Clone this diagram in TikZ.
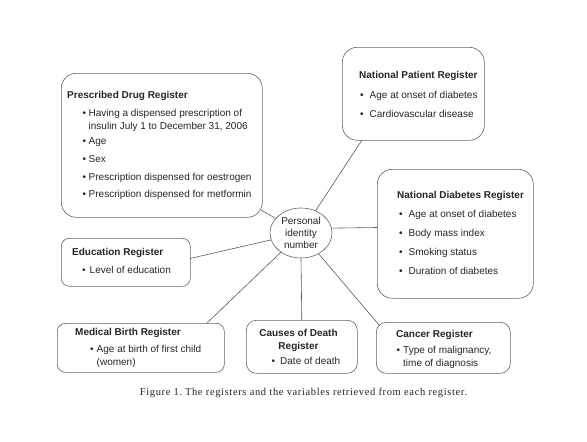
\documentclass[tikz,border=0pt]{standalone}
\usepackage{fontspec}
\setmainfont{Liberation Sans}
\newfontfamily\capfont[LetterSpace=6]{Liberation Serif}
\usetikzlibrary{shapes.geometric}
\begin{document}
\begin{tikzpicture}[x=1pt,y=-1pt,
  regbox/.style={draw=black!62, line width=0.6pt, anchor=north west, inner sep=0pt},
  regtext/.style={anchor=base west, inner sep=0pt, text=black!85, font=\fontsize{10}{13}\selectfont},
  link/.style={draw=black!65, line width=0.6pt}]
\useasboundingbox (0,0) rectangle (587,442);
\fill[white] (0,0) rectangle (587,442);

% boxes
\node[regbox, rounded corners=15pt, minimum width=201pt, minimum height=144pt] (pd) at (61,73) {};
\node[regbox, rounded corners=15pt, minimum width=142pt, minimum height=93pt] (np) at (342,47) {};
\node[regbox, rounded corners=15pt, minimum width=156pt, minimum height=129pt] (db) at (377,169) {};
\node[regbox, rounded corners=8pt, minimum width=129pt, minimum height=48pt] (ed) at (61,238) {};
\node[regbox, rounded corners=8pt, minimum width=167pt, minimum height=49pt] (mb) at (57,323) {};
\node[regbox, rounded corners=10pt, minimum width=111pt, minimum height=53pt] (cd) at (246,320) {};
\node[regbox, rounded corners=10pt, minimum width=134pt, minimum height=51pt] (ca) at (376,322) {};

% texts
\node[regtext] (pdt) at (67,98.5) {\begin{tabular}[t]{@{\hspace{15.5pt}}l@{\hspace{2.5pt}}l@{}}
\multicolumn{2}{@{}l@{}}{\textbf{Prescribed Drug Register}}\\[5pt]
\textbullet & Having a dispensed prescription of\\
 & insulin July 1 to December 31, 2006\\[1.5pt]
\textbullet & Age\\[5pt]
\textbullet & Sex\\[5pt]
\textbullet & Prescription dispensed for oestrogen\\[4pt]
\textbullet & Prescription dispensed for metformin
\end{tabular}};

\node[regtext] (npt) at (359,78.5) {\begin{tabular}[t]{@{\hspace{1pt}}l@{\hspace{6pt}}l@{}}
\multicolumn{2}{@{}l@{}}{\textbf{National Patient Register}}\\[7pt]
\textbullet & Age at onset of diabetes\\[6pt]
\textbullet & Cardiovascular disease
\end{tabular}};

\node[regtext] (dbt) at (397,198.5) {\begin{tabular}[t]{@{\hspace{2pt}}l@{\hspace{6pt}}l@{}}
\multicolumn{2}{@{}l@{}}{\textbf{National Diabetes Register}}\\[6pt]
\textbullet & Age at onset of diabetes\\[6pt]
\textbullet & Body mass index\\[6pt]
\textbullet & Smoking status\\[6pt]
\textbullet & Duration of diabetes
\end{tabular}};

\node[regtext] (edt) at (72,255.5) {\begin{tabular}[t]{@{\hspace{10pt}}l@{\hspace{4pt}}l@{}}
\multicolumn{2}{@{}l@{}}{\textbf{Education Register}}\\[5pt]
\textbullet & Level of education
\end{tabular}};

\node[regtext] (mbt) at (75,335.5) {\begin{tabular}[t]{@{\hspace{15pt}}l@{\hspace{3pt}}l@{}}
\multicolumn{2}{@{}l@{}}{\textbf{Medical Birth Register}}\\[4pt]
\textbullet & Age at birth of first child\\
 & (women)
\end{tabular}};

\node[regtext, anchor=base] (cdt) at (298.5,336.5) {\begin{tabular}[t]{@{}c@{}}
\textbf{Causes of Death}\\
\textbf{Register}
\end{tabular}};
\node[regtext] (cdb) at (271.5,364.5) {\textbullet\hspace{5pt}Date of death};

\node[regtext] (cat) at (396,337.5) {\begin{tabular}[t]{@{\hspace{0.5pt}}l@{\hspace{3pt}}l@{}}
\multicolumn{2}{@{}l@{}}{\textbf{Cancer Register}}\\[3pt]
\textbullet & Type of malignancy,\\
 & time of diagnosis
\end{tabular}};

% centre
\node[draw=black!62, line width=0.6pt, ellipse, minimum width=62pt, minimum height=50pt, inner sep=0pt,
  align=center, text=black!85, font=\fontsize{10}{12}\selectfont] (pin) at (301,233) {Personal\\identity\\number};

% connector ends
\coordinate (pdc) at (261,210);
\coordinate (npc) at (362,140);
\coordinate (dbc) at (377,227.5);
\coordinate (edc) at (190,258.5);
\coordinate (mbc) at (207,323);
\coordinate (cac) at (379.5,325.5);

\draw[link] (pin) -- (pdc);
\draw[link] (pin) -- (npc);
\draw[link] (pin.9.5) -- (dbc);
\draw[link] (pin) -- (edc);
\draw[link] (pin) -- (mbc);
\draw[link] (pin.south) -- (cd.north);
\draw[link] (pin) -- (cac);

% caption
\node[inner sep=0pt, text=black!85, font=\capfont\fontsize{10.5}{12}\selectfont] (cap) at (303.5,393) {Figure 1.\hspace{-1.5pt} The registers and the variables retrieved from each register.};
\end{tikzpicture}
\end{document}
